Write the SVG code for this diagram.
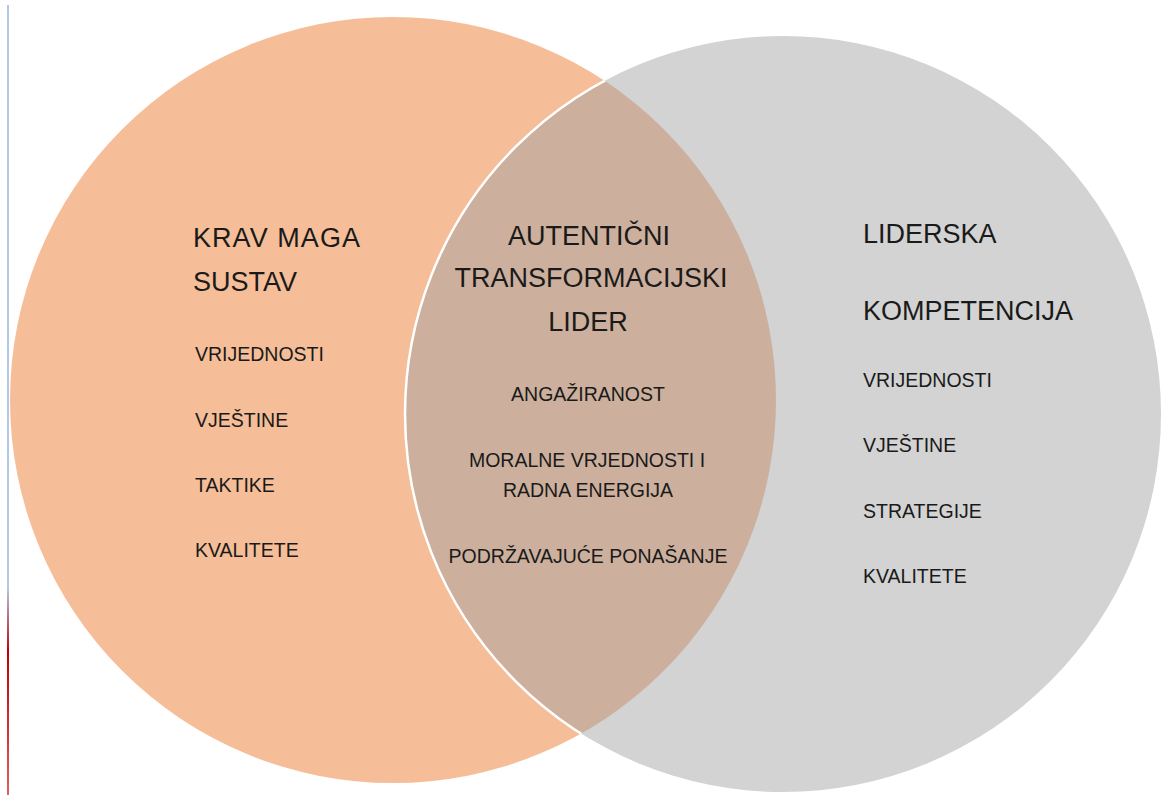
<svg xmlns="http://www.w3.org/2000/svg" width="1161" height="795" viewBox="0 0 1161 795">
  <defs>
    <clipPath id="clipLeft">
      <circle cx="393" cy="400" r="383"/>
    </clipPath>
    <linearGradient id="edgeGrad" x1="0" y1="0" x2="0" y2="795" gradientUnits="userSpaceOnUse">
      <stop offset="0" stop-color="#B4C7E7"/>
      <stop offset="0.74" stop-color="#B4C7E7"/>
      <stop offset="0.82" stop-color="#C00000"/>
      <stop offset="1" stop-color="#E06060"/>
    </linearGradient>
  </defs>
  <style>
    .big { font-family: "Liberation Sans", Arial, sans-serif; font-size: 27px; fill: #1a1a1a; }
    .small { font-family: "Liberation Sans", Arial, sans-serif; font-size: 19.5px; fill: #1a1a1a; }
    .mid { text-anchor: middle; }
  </style>
  <rect x="0" y="0" width="1161" height="795" fill="#ffffff"/>
  <line x1="8" y1="5" x2="8" y2="795" stroke="url(#edgeGrad)" stroke-width="2"/>

  <g id="circle-krav-maga">
    <circle cx="393" cy="400" r="383" fill="#F5BE98"/>
  </g>
  <g id="circle-liderska">
    <circle cx="783" cy="414" r="378" fill="#D3D3D3"/>
  </g>
  <g id="overlap">
    <circle cx="783" cy="414" r="378" fill="#CCB09D" clip-path="url(#clipLeft)"/>
    <circle cx="783" cy="414" r="378" fill="none" stroke="#ffffff" stroke-width="2.5" clip-path="url(#clipLeft)"/>
  </g>

  <g id="label-krav-maga">
    <text class="big" x="193" y="247" textLength="167" lengthAdjust="spacing">KRAV MAGA</text>
    <text class="big" x="193" y="291">SUSTAV</text>
    <text class="small" x="195" y="361">VRIJEDNOSTI</text>
    <text class="small" x="195" y="427">VJEŠTINE</text>
    <text class="small" x="195" y="492">TAKTIKE</text>
    <text class="small" x="195" y="557">KVALITETE</text>
  </g>

  <g id="label-autenticni">
    <text class="big mid" x="589" y="245">AUTENTIČNI</text>
    <text class="big mid" x="591" y="287">TRANSFORMACIJSKI</text>
    <text class="big mid" x="588" y="331">LIDER</text>
    <text class="small mid" x="588" y="401">ANGAŽIRANOST</text>
    <text class="small mid" x="587" y="467">MORALNE VRJEDNOSTI I</text>
    <text class="small mid" x="588" y="497">RADNA ENERGIJA</text>
    <text class="small mid" x="588" y="563">PODRŽAVAJUĆE PONAŠANJE</text>
  </g>

  <g id="label-liderska">
    <text class="big" x="863" y="243">LIDERSKA</text>
    <text class="big" x="863" y="320">KOMPETENCIJA</text>
    <text class="small" x="863" y="387">VRIJEDNOSTI</text>
    <text class="small" x="863" y="452">VJEŠTINE</text>
    <text class="small" x="863" y="518">STRATEGIJE</text>
    <text class="small" x="863" y="583">KVALITETE</text>
  </g>

  <g id="connectors"></g>
</svg>
